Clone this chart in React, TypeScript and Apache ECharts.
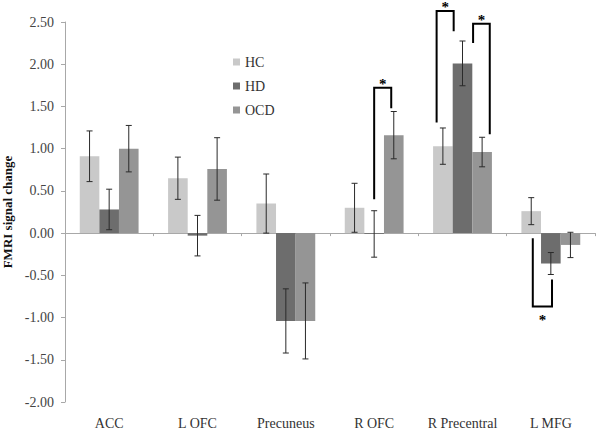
import React, { useEffect, useRef } from "react";
import * as echarts from "echarts";

const categories = ["ACC", "L OFC", "Precuneus", "R OFC", "R Precentral", "L MFG"];
const groupNames = ["HC", "HD", "OCD"];
const hcValues = [0.91, 0.65, 0.35, 0.3, 1.03, 0.26];
const hcErrors = [0.3, 0.25, 0.35, 0.29, 0.215, 0.16];
const hdValues = [0.28, -0.03, -1.04, -0.01, 2.01, -0.36];
const hdErrors = [0.24, 0.24, 0.38, 0.275, 0.265, 0.13];
const ocdValues = [1.0, 0.76, -1.04, 1.16, 0.96, -0.14];
const ocdErrors = [0.275, 0.37, 0.45, 0.28, 0.175, 0.15];
const yTicks = [-2, -1.5, -1, -0.5, 0, 0.5, 1, 1.5, 2, 2.5];

// significance brackets: category, left-end value, peak value, right-end value
const bracketCats = ["R OFC", "R Precentral", "R Precentral", "L MFG"];
const bracketLeft = [0.4, 1.31, 2.25, -0.06];
const bracketPeak = [1.72, 2.63, 2.48, -0.87];
const bracketRight = [1.48, 2.39, 1.17, -0.55];
const bracketLabel = ["*", "*", "*", "*"];

// horizontal placement of bracket legs, in bar widths from the category centre
const bracketOffsets = [
  [0, 0.87],
  [-1.32, -0.45],
  [0.54, 1.39],
  [-0.92, 0.06],
];

const colors = ["#c9c9c9", "#6d6d6d", "#959595"];
const BAR_FRAC = 0.222;
const FONT = "'Liberation Serif', 'Times New Roman', serif";

export default function App() {
  const ref = useRef<HTMLDivElement>(null);
  useEffect(() => {
    if (!ref.current) return;
    const chart = echarts.init(ref.current, undefined, { renderer: "svg" });
    const valueSets = [hcValues, hdValues, ocdValues];
    const errSets = [hcErrors, hdErrors, ocdErrors];

    const barSeries = groupNames.map((name, gi) => ({
      name,
      type: "bar",
      xAxisIndex: 0,
      data: valueSets[gi],
      barWidth: (BAR_FRAC * 100).toFixed(1) + "%",
      barGap: "0%",
      itemStyle: { color: colors[gi] },
      emphasis: { disabled: true },
      z: 2,
    }));

    const errSeries = groupNames.map((name, gi) => ({
      name: name + "-err",
      type: "custom",
      xAxisIndex: 0,
      z: 5,
      clip: false,
      itemStyle: { color: "#2a2a2a" },
      data: valueSets[gi].map((v, i) => [i, v - errSets[gi][i], v + errSets[gi][i]]),
      renderItem: (params: any, api: any) => {
        const idx = api.value(0);
        const band = api.size([1, 0])[0];
        const off = (gi - 1) * band * BAR_FRAC;
        const lo = api.coord([idx, api.value(1)]);
        const hi = api.coord([idx, api.value(2)]);
        const x = lo[0] + off;
        const cap = 3;
        const style = { stroke: "#2a2a2a", lineWidth: 1, fill: "none" };
        return {
          type: "group",
          children: [
            { type: "line", shape: { x1: x, y1: lo[1], x2: x, y2: hi[1] }, style },
            { type: "line", shape: { x1: x - cap, y1: lo[1], x2: x + cap, y2: lo[1] }, style },
            { type: "line", shape: { x1: x - cap, y1: hi[1], x2: x + cap, y2: hi[1] }, style },
          ],
        };
      },
    }));

    const bracketSeries = {
      name: "brackets",
      type: "custom",
      xAxisIndex: 0,
      z: 6,
      clip: false,
      itemStyle: { color: "#000000" },
      data: bracketCats.map((c, i) => [
        categories.indexOf(c),
        bracketLeft[i],
        bracketPeak[i],
        bracketRight[i],
        i,
      ]),
      renderItem: (params: any, api: any) => {
        const idx = api.value(0);
        const bi = api.value(4);
        const band = api.size([1, 0])[0];
        const bw = band * BAR_FRAC;
        const c = api.coord([idx, 0])[0];
        const xl = c + bracketOffsets[bi][0] * bw;
        const xr = c + bracketOffsets[bi][1] * bw;
        const yl = api.coord([idx, api.value(1)])[1];
        const yp = api.coord([idx, api.value(2)])[1];
        const yr = api.coord([idx, api.value(3)])[1];
        const up = yp < yl;
        return {
          type: "group",
          children: [
            {
              type: "polyline",
              shape: { points: [[xl, yl], [xl, yp], [xr, yp], [xr, yr]] },
              style: { stroke: "#000", lineWidth: 2, fill: "none" },
            },
            {
              type: "text",
              x: (xl + xr) / 2,
              y: up ? yp - 4 : yp + 13,
              style: {
                text: bracketLabel[bi],
                fill: "#000000",
                font: "bold 15px " + FONT,
                align: "center",
                verticalAlign: "middle",
              },
            },
          ],
        };
      },
    };

    chart.setOption({
      animation: false,
      backgroundColor: "#ffffff",
      textStyle: { fontFamily: FONT },
      grid: {
        left: 65,
        right: 5,
        top: 22,
        bottom: 28,
        containLabel: false,
        outerBoundsMode: "none",
      },
      legend: {
        data: groupNames,
        orient: "vertical",
        left: 228,
        top: 50,
        itemWidth: 7,
        itemHeight: 7,
        itemGap: 10,
        icon: "rect",
        textStyle: { fontFamily: FONT, fontSize: 14, color: "#333" },
      },
      xAxis: [
        {
          type: "category",
          data: categories,
          axisLine: { onZero: true, lineStyle: { color: "#a8a8a8", width: 1 } },
          axisTick: { show: true, length: 3, lineStyle: { color: "#a8a8a8" } },
          axisLabel: { show: false },
          splitLine: { show: false },
        },
        {
          type: "category",
          data: categories,
          position: "bottom",
          axisLine: { show: false, onZero: false },
          axisTick: { show: false },
          axisLabel: {
            show: true,
            interval: 0,
            fontFamily: FONT,
            fontSize: 14,
            color: "#333",
            margin: 14,
          },
          splitLine: { show: false },
        },
      ],
      yAxis: {
        type: "value",
        min: yTicks[0],
        max: yTicks[yTicks.length - 1],
        interval: 0.5,
        name: "FMRI signal change",
        nameLocation: "middle",
        nameGap: 50,
        nameTextStyle: { fontFamily: FONT, fontSize: 13, fontWeight: "bold", color: "#111" },
        axisLine: { show: true, lineStyle: { color: "#a8a8a8", width: 1 } },
        axisTick: { show: true, length: 4, lineStyle: { color: "#a8a8a8" } },
        axisLabel: {
          fontFamily: FONT,
          fontSize: 14,
          color: "#444",
          margin: 11,
          formatter: (v: number) => v.toFixed(2),
        },
        splitLine: { show: false },
      },
      series: [...barSeries, ...errSeries, bracketSeries],
    });
    return () => chart.dispose();
  }, []);
  return (
    <div
      ref={ref}
      style={{ position: "fixed", left: 0, top: 0, width: 600, height: 430, background: "#fff" }}
    />
  );
}
